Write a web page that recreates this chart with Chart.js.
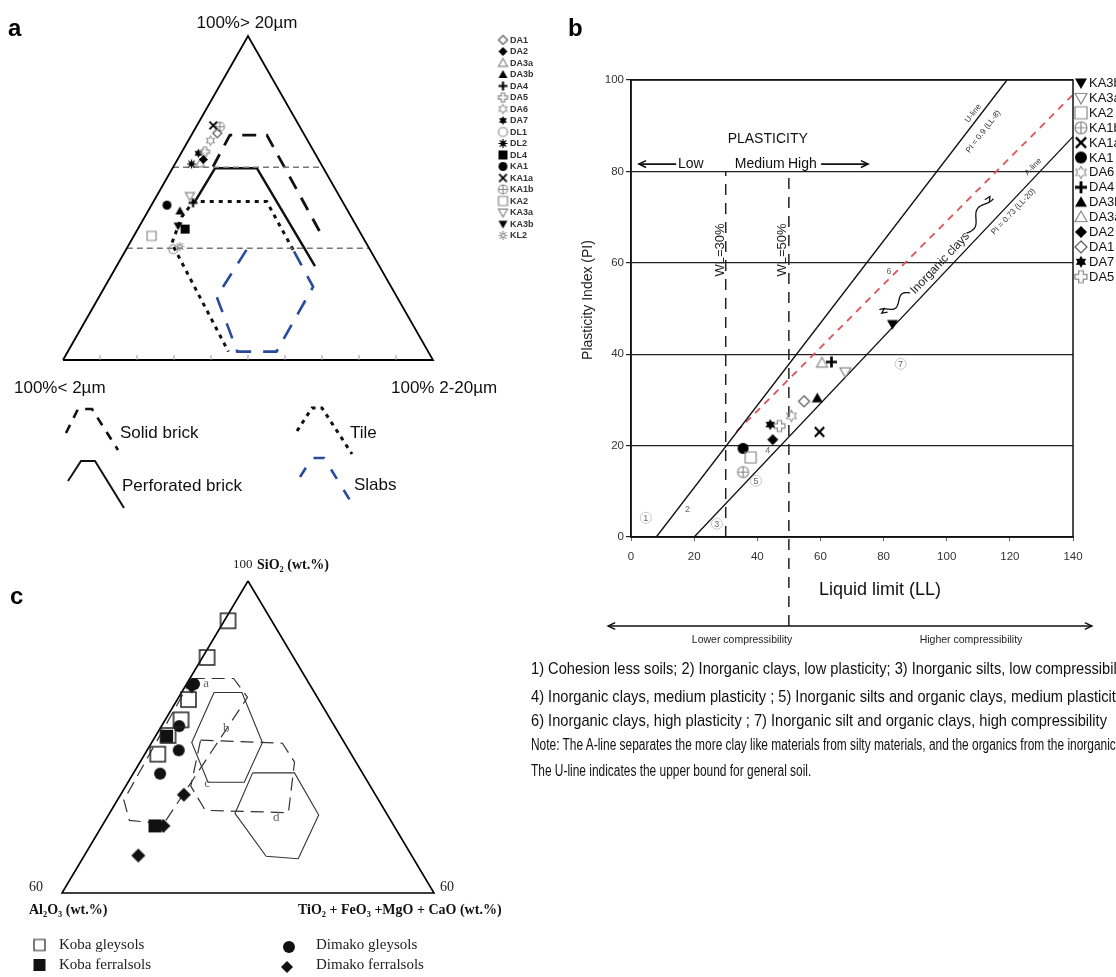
<!DOCTYPE html>
<html lang="en">
<head>
<meta charset="UTF-8">
<title>Grain size, plasticity and chemistry of the clays</title>
<script src="https://cdn.jsdelivr.net/npm/chart.js"></script>
<style>
  body { margin: 0; background: #fff; }
  #page { position: relative; width: 1116px; height: 977px; overflow: hidden; font-family: "Liberation Sans", Arial, sans-serif; }
  #page canvas { position: absolute; }
  .tag { position: absolute; font: bold 24px "Liberation Sans", Arial, sans-serif; line-height: 24px; color: #000; }
  .narrow { position: absolute; left: 531px; white-space: nowrap; transform-origin: 0 50%; color: #111; line-height: 20px; }
</style>
</head>
<body>
<div id="page">
  <canvas id="chartA" width="560" height="540" style="left:0px;top:0px"></canvas>
  <canvas id="chartC" width="560" height="437" style="left:0px;top:540px"></canvas>
  <canvas id="chartB" width="556" height="640" style="left:560px;top:20px"></canvas>
  <div class="tag" style="left:8px;top:16px">a</div>
  <div class="tag" style="left:568px;top:16px">b</div>
  <div class="tag" style="left:10px;top:584px">c</div>
  <div class="narrow big" style="top:659px;font-size:17px">1) Cohesion less soils; 2) Inorganic clays, low plasticity; 3) Inorganic silts, low compressibility;</div>
  <div class="narrow big" style="top:687px;font-size:17px">4) Inorganic clays, medium plasticity ; 5) Inorganic silts and organic clays, medium plasticity;</div>
  <div class="narrow big" id="refBig" style="top:711px;font-size:17px">6) Inorganic clays, high plasticity ; 7) Inorganic silt and organic clays, high compressibility</div>
  <div class="narrow small" style="top:735px;font-size:16px">Note: The A-line separates the more clay like materials from silty materials, and the organics from the inorganics.</div>
  <div class="narrow small" id="refSmall" style="top:761px;font-size:16px">The U-line indicates the upper bound for general soil.</div>
</div>
<script>
// ---------- panel a : grain size fractions (%) ----------
const samplesA = ['DA1', 'DA2', 'DA3a', 'DA3b', 'DA4', 'DA5', 'DA6', 'DA7', 'DL1', 'DL2', 'DL4', 'KA1', 'KA1a', 'KA1b', 'KA2', 'KA3a', 'KA3b', 'KL2'];
const clayA = [23.3, 31.1, 32.6, 45.4, 40.6, 29.5, 26.3, 31.5, 53.1, 35.0, 46.8, 48.0, 23.2, 21.6, 56.9, 40.4, 48.2, 50.9];  // < 2 µm
const siltA = [6.7, 7.0, 6.7, 8.6, 10.9, 6.2, 6.0, 4.7, 12.7, 4.5, 12.8, 4.2, 4.4, 6.4, 4.8, 9.0, 10.4, 14.1];          // 2-20 µm
const sandA = [70.0, 61.9, 60.7, 46.0, 48.5, 64.3, 67.7, 63.8, 34.2, 60.5, 40.4, 47.8, 72.4, 72.0, 38.3, 50.6, 41.4, 35.0]; // > 20 µm

// fields, vertices as [clay, silt, sand]
const solidBrick = [[29.6, 10.7, 59.7], [20.2, 10.4, 69.4], [10.2, 20.4, 69.4], [10.8, 49.6, 39.6]];
const perforatedBrick = [[39.9, 11.2, 48.9], [29.3, 11.5, 59.2], [18.0, 22.8, 59.2], [17.4, 53.6, 29.0]];
const tile = [[20.8, 45.2, 34.0], [20.5, 30.6, 48.9], [40.3, 10.8, 48.9], [45.8, 10.0, 44.2], [52.6, 11.4, 36.0], [54.0, 43.4, 2.6]];
const slabs = [[33.4, 32.6, 34.0], [48.7, 31.8, 19.5], [51.6, 45.8, 2.6], [41.0, 56.4, 2.6], [21.1, 56.3, 22.6], [20.8, 45.2, 34.0]];
const guideSand = [59.5, 34.5];
const baseTicksA = [10, 20, 30, 40, 50, 60, 70, 80, 90];

// ---------- panel b : Casagrande plasticity chart ----------
const samplesB = ['KA3b', 'KA3a', 'KA2', 'KA1b', 'KA1a', 'KA1', 'DA6', 'DA4', 'DA3b', 'DA3a', 'DA2', 'DA1', 'DA7', 'DA5'];
const liquidLimit = [82.8, 67.9, 37.9, 35.5, 59.7, 35.5, 50.8, 63.5, 59.0, 60.5, 44.9, 54.8, 44.1, 47.0];
const plasticityIndex = [46.6, 36.1, 17.4, 14.2, 23.0, 19.4, 26.5, 38.3, 30.4, 38.1, 21.3, 29.7, 24.6, 24.3];
const uLineLL = [8, 119.1], uLinePI = [0, 100];
const aLineLL = [20, 140], aLinePI = [0, 87.6];
const redLineLL = [33.5, 140], redLinePI = [23.1, 96.8];
const wlLL = [30, 50], wlTopPI = [80, 80], wlBottomPI = [0, -19.5];
const zoneText = ['1', '2', '3', '4', '5', '6', '7'];
const zoneLL = [4.7, 17.9, 27.2, 43.3, 39.6, 81.7, 85.4];
const zonePI = [4.2, 6.2, 2.9, 19.0, 12.3, 58.3, 37.9];
const xTicksB = [0, 140, 20], yTicksB = [0, 100, 20]; // min, max, step

// ---------- panel c : SiO2 - Al2O3 - (TiO2+FeO3+MgO+CaO), wt.% ----------
const groupsC = ['Koba gleysols', 'Koba ferralsols', 'Dimako gleysols', 'Dimako ferralsols'];
const sio2C = [[94.9, 90.2, 84.8, 82.2, 80.2, 77.8], [80.1, 68.6], [86.8, 81.4, 78.3, 75.3], [86.5, 72.6, 68.6, 64.8]];
const al2o3C = [[4.7, 9.3, 14.0, 16.1, 18.5, 20.8], [18.7, 25.7], [12.4, 16.7, 18.3, 21.8], [12.8, 20.6, 24.8, 29.4]];
const othersC = [[0.4, 0.5, 1.2, 1.7, 1.3, 1.4], [1.2, 5.7], [0.8, 1.9, 3.4, 2.9], [0.7, 6.8, 6.6, 5.8]];
// fields, vertices as [SiO2, Al2O3, others]
const fieldA = [[87.5, 12.3, 0.2], [87.5, 7.8, 4.7], [85.1, 7.5, 7.4], [68.9, 24.6, 6.5], [69.3, 28.1, 2.6], [71.9, 27.4, 0.7]];
const fieldB = [[85.7, 10.8, 3.5], [85.7, 7.8, 6.5], [79.3, 8.8, 11.9], [74.2, 13.3, 12.5], [74.2, 17.2, 8.6], [79.3, 16.4, 4.3]];
const fieldC = [[79.6, 15.3, 5.1], [79.2, 6.7, 14.1], [76.8, 6.6, 16.6], [70.3, 10.5, 19.2], [70.6, 19.3, 10.1], [73.7, 19.3, 7.0]];
const fieldD = [[75.4, 11.8, 12.8], [75.4, 7.3, 17.3], [70.0, 7.4, 22.6], [64.4, 12.4, 23.2], [64.7, 15.7, 19.6], [70.2, 16.3, 13.5]];
const fieldNames = ['a', 'b', 'c', 'd'];
const fieldLabelPos = [[86.8, 11.1, 2.1], [81.1, 11.8, 7.1], [74.0, 17.4, 8.6], [69.7, 12.1, 18.2]];

// ---------- helpers ----------
const terA = ([c, s, t]) => ({ x: s + t / 2, y: t });            // sand at apex, silt to the right
const terC = ([si, al, ot]) => {                                   // SiO2 60..100 at apex
  const h = (si - 60) / 40 * 100, r = ot / 40 * 100;
  return { x: r + h / 2, y: h };
};
const closed = arr => arr.concat([arr[0]]);

function marker(shape, size, filled, color, lw) {
  const d = Math.ceil(size) + 4;
  const cv = document.createElement('canvas');
  cv.width = d; cv.height = d;
  const g = cv.getContext('2d');
  const c = d / 2, r = size / 2;
  g.strokeStyle = color; g.fillStyle = color; g.lineWidth = lw || 1.2;
  const poly = pts => { g.beginPath(); pts.forEach(([x, y], i) => i ? g.lineTo(c + x, c + y) : g.moveTo(c + x, c + y)); g.closePath(); };
  const paint = () => filled ? g.fill() : g.stroke();
  if (shape === 'circle') { g.beginPath(); g.arc(c, c, r, 0, Math.PI * 2); paint(); }
  else if (shape === 'square') { poly([[-r, -r], [r, -r], [r, r], [-r, r]]); paint(); }
  else if (shape === 'diamond') { poly([[0, -r], [r, 0], [0, r], [-r, 0]]); paint(); }
  else if (shape === 'tri') { poly([[0, -r], [r, r * 0.75], [-r, r * 0.75]]); paint(); }
  else if (shape === 'triDown') { poly([[0, r], [r, -r * 0.75], [-r, -r * 0.75]]); paint(); }
  else if (shape === 'plus') {
    g.lineWidth = size * 0.24; g.beginPath();
    g.moveTo(c - r, c); g.lineTo(c + r, c); g.moveTo(c, c - r); g.lineTo(c, c + r); g.stroke();
  } else if (shape === 'plusOpen') {
    const w = r * 0.38;
    poly([[-w, -r], [w, -r], [w, -w], [r, -w], [r, w], [w, w], [w, r], [-w, r], [-w, w], [-r, w], [-r, -w], [-w, -w]]); g.stroke();
  } else if (shape === 'star6') {
    const pts = [];
    for (let k = 0; k < 12; k++) { const a = -Math.PI / 2 + k * Math.PI / 6, rr = k % 2 ? r * 0.58 : r; pts.push([rr * Math.cos(a), rr * Math.sin(a)]); }
    poly(pts); paint();
  } else if (shape === 'x') {
    const q = r * 0.85; g.lineWidth = size * 0.2; g.beginPath();
    g.moveTo(c - q, c - q); g.lineTo(c + q, c + q); g.moveTo(c + q, c - q); g.lineTo(c - q, c + q); g.stroke();
  } else if (shape === 'circlePlus') {
    g.beginPath(); g.arc(c, c, r, 0, Math.PI * 2);
    g.moveTo(c - r, c); g.lineTo(c + r, c); g.moveTo(c, c - r); g.lineTo(c, c + r); g.stroke();
  } else if (shape === 'burst') {
    g.beginPath(); g.arc(c, c, r * 0.55, 0, Math.PI * 2); g.fill(); g.beginPath();
    for (let k = 0; k < 8; k++) { const a = k * Math.PI / 4; g.moveTo(c, c); g.lineTo(c + r * Math.cos(a), c + r * Math.sin(a)); }
    g.stroke();
  } else if (shape === 'sun') {
    g.beginPath(); g.arc(c, c, r * 0.42, 0, Math.PI * 2); g.stroke(); g.beginPath();
    for (let k = 0; k < 8; k++) { const a = k * Math.PI / 4; g.moveTo(c + r * 0.62 * Math.cos(a), c + r * 0.62 * Math.sin(a)); g.lineTo(c + r * Math.cos(a), c + r * Math.sin(a)); }
    g.stroke();
  }
  return cv;
}

const symbolOf = {
  DA1: ['diamond', false, '#555'], DA2: ['diamond', true, '#000'], DA3a: ['tri', false, '#888'], DA3b: ['tri', true, '#000'],
  DA4: ['plus', true, '#000'], DA5: ['plusOpen', false, '#888'], DA6: ['star6', false, '#999'], DA7: ['star6', true, '#000'],
  DL1: ['circle', false, '#888'], DL2: ['burst', true, '#000'], DL4: ['square', true, '#000'], KA1: ['circle', true, '#000'],
  KA1a: ['x', true, '#000'], KA1b: ['circlePlus', false, '#888'], KA2: ['square', false, '#888'], KA3a: ['triDown', false, '#888'],
  KA3b: ['triDown', true, '#000'], KL2: ['sun', false, '#888']
};
const symbolImg = (name, size) => { const s = symbolOf[name]; return marker(s[0], size, s[1], s[2]); };

function text(ctx, s, x, y, font, color, align, rot) {
  ctx.save();
  ctx.translate(x, y);
  if (rot) ctx.rotate(rot * Math.PI / 180);
  ctx.font = font; ctx.fillStyle = color || '#111';
  ctx.textAlign = align || 'left'; ctx.textBaseline = 'middle';
  ctx.fillText(s, 0, 0);
  ctx.restore();
}
function polyline(ctx, pts, color, width, dash) {
  ctx.save();
  ctx.strokeStyle = color; ctx.lineWidth = width; ctx.setLineDash(dash || []);
  ctx.beginPath();
  pts.forEach(([x, y], i) => i ? ctx.lineTo(x, y) : ctx.moveTo(x, y));
  ctx.stroke();
  ctx.restore();
}
function arrowHead(ctx, x, y, ang, len) {
  ctx.beginPath();
  ctx.moveTo(x - len * Math.cos(ang - 0.45), y - len * Math.sin(ang - 0.45));
  ctx.lineTo(x, y);
  ctx.lineTo(x - len * Math.cos(ang + 0.45), y - len * Math.sin(ang + 0.45));
  ctx.stroke();
}
function arrow(ctx, x1, y1, x2, y2, both) {
  ctx.beginPath(); ctx.moveTo(x1, y1); ctx.lineTo(x2, y2); ctx.stroke();
  const ang = Math.atan2(y2 - y1, x2 - x1);
  arrowHead(ctx, x2, y2, ang, 8);
  if (both) arrowHead(ctx, x1, y1, ang + Math.PI, 8);
}
function squiggle(ctx, x1, y1, x2, y2) {
  const dx = x2 - x1, dy = y2 - y1, len = Math.hypot(dx, dy), nx = -dy / len, ny = dx / len;
  ctx.beginPath();
  for (let i = 0; i <= 40; i++) {
    const t = i / 40, off = Math.sin(t * Math.PI * 2.5) * 4;
    const px = x1 + dx * t + nx * off, py = y1 + dy * t + ny * off;
    i ? ctx.lineTo(px, py) : ctx.moveTo(px, py);
  }
  ctx.stroke();
  arrowHead(ctx, x2, y2, Math.atan2(dy, dx), 6);
}

const lineSet = (pts, color, width, dash) => ({
  data: pts, showLine: true, pointRadius: 0, borderColor: color, borderWidth: width,
  borderDash: dash || [], fill: false, clip: false, order: 2
});
const pointSet = (pts, img) => ({ data: pts, pointStyle: img, pointRadius: 4, clip: false, order: 1 });
const baseOptions = padding => ({
  responsive: false, animation: false, events: [],
  layout: { padding },
  scales: { x: { display: false, min: 0, max: 100 }, y: { display: false, min: 0, max: 100 } },
  plugins: { legend: { display: false }, tooltip: { enabled: false } }
});

// ---------- chart a ----------
const triangleA = closed([[100, 0, 0], [0, 100, 0], [0, 0, 100]]);
const dsA = [
  lineSet(triangleA.map(terA), '#000', 1.8),
  ...guideSand.map(t => lineSet([terA([100 - t, 0, t]), terA([0, 100 - t, t])], '#777', 1.4, [6, 4])),
  lineSet(solidBrick.map(terA), '#111', 2.8, [14, 10]),
  lineSet(perforatedBrick.map(terA), '#111', 2.5),
  lineSet(tile.map(terA), '#111', 3, [4, 5]),
  lineSet(slabs.map(terA), '#2a4a9e', 2.6, [16, 12]),
  ...samplesA.map((n, i) => pointSet([terA([clayA[i], siltA[i], sandA[i]])], symbolImg(n, 9)))
];
const decorA = {
  id: 'decorA',
  afterDraw(chart) {
    const { ctx, scales: { x, y } } = chart;
    ctx.save();
    ctx.strokeStyle = '#999'; ctx.lineWidth = 1;
    baseTicksA.forEach(v => {
      const p = x.getPixelForValue(v), q = y.getPixelForValue(0);
      ctx.beginPath(); ctx.moveTo(p, q); ctx.lineTo(p, q - 5); ctx.stroke();
    });
    const f17 = '17px "Liberation Sans", Arial, sans-serif';
    text(ctx, '100%> 20\u00b5m', 247, 23, f17, '#111', 'center');
    text(ctx, '100%< 2\u00b5m', 14, 388, f17, '#111');
    text(ctx, '100% 2-20\u00b5m', 391, 388, f17, '#111');
    // sample legend
    samplesA.forEach((n, i) => {
      const img = symbolImg(n, 9), yy = 40 + i * 11.5;
      ctx.drawImage(img, 503 - img.width / 2, yy - img.height / 2);
      text(ctx, n, 510, yy + 0.5, 'bold 9px "Liberation Sans", Arial, sans-serif', '#333');
    });
    // field legend
    polyline(ctx, [[66, 433], [78, 409], [92, 409], [118, 450]], '#111', 2.6, [9, 8]);
    polyline(ctx, [[68, 481], [81, 461], [95, 461], [124, 508]], '#111', 2);
    polyline(ctx, [[297, 431], [312, 408], [322, 408], [352, 454]], '#111', 3, [4, 5]);
    polyline(ctx, [[300, 477], [312, 458], [324, 458], [356, 510]], '#2a4a9e', 2.6, [11, 13]);
    text(ctx, 'Solid brick', 120, 433, f17, '#111');
    text(ctx, 'Perforated brick', 122, 486, f17, '#111');
    text(ctx, 'Tile', 350, 433, f17, '#111');
    text(ctx, 'Slabs', 354, 485, f17, '#111');
    ctx.restore();
  }
};
new Chart(document.getElementById('chartA'), {
  type: 'scatter',
  data: { datasets: dsA },
  options: baseOptions({ left: 63, right: 127, top: 36, bottom: 180 }),
  plugins: [decorA]
});

// ---------- chart b ----------
const pairs = (xs, ys) => xs.map((v, i) => ({ x: v, y: ys[i] }));
const dsB = [
  lineSet(pairs(uLineLL, uLinePI), '#111', 1.3),
  lineSet(pairs(aLineLL, aLinePI), '#111', 1.3),
  lineSet(pairs(redLineLL, redLinePI), '#e0505a', 1.8, [7, 6]),
  ...wlLL.map((v, i) => lineSet([{ x: v, y: wlBottomPI[i] }, { x: v, y: wlTopPI[i] }], '#222', 1.5, [11, 8])),
  ...samplesB.map((n, i) => pointSet([{ x: liquidLimit[i], y: plasticityIndex[i] }], symbolImg(n, 11)))
];
const decorB = {
  id: 'decorB',
  afterDraw(chart) {
    const { ctx, chartArea: a, scales: { x, y } } = chart;
    const X = v => x.getPixelForValue(v), Y = v => y.getPixelForValue(v);
    const sans = s => s + 'px "Liberation Sans", Arial, sans-serif';
    ctx.save();
    ctx.strokeStyle = '#111'; ctx.lineWidth = 1.5;
    ctx.strokeRect(a.left, a.top, a.right - a.left, a.bottom - a.top);
    // axis titles
    text(ctx, 'Plasticity Index (PI)', 28, 280, sans(14), '#222', 'center', -90);
    text(ctx, 'Liquid limit (LL)', 320, 570, sans(18), '#111', 'center');
    // plasticity header
    text(ctx, 'PLASTICITY', X(43.3), Y(87.1), sans(14), '#111', 'center');
    ctx.lineWidth = 1.6; ctx.strokeStyle = '#111';
    arrow(ctx, X(14.3), Y(81.6), X(2.5), Y(81.6));
    text(ctx, 'Low', X(14.9), Y(81.6), sans(14), '#111');
    text(ctx, 'Medium', X(32.9), Y(81.6), sans(14), '#111');
    text(ctx, 'High', X(49.7), Y(81.6), sans(14), '#111');
    arrow(ctx, X(60.2), Y(81.6), X(75.1), Y(81.6));
    text(ctx, 'WL=30%', X(28.2), Y(62.8), sans(13), '#222', 'center', -90);
    text(ctx, 'WL=50%', X(48.1), Y(62.8), sans(13), '#222', 'center', -90);
    // line labels
    text(ctx, 'U-line', X(108.4), Y(92.7), sans(8), '#333', 'center', -52.5);
    text(ctx, 'PI = 0.9 (LL-8)', X(111.6), Y(88.7), sans(8), '#333', 'center', -52.5);
    text(ctx, 'A-line', X(127.4), Y(81.0), sans(8), '#333', 'center', -46.6);
    text(ctx, 'PI = 0.73 (LL-20)', X(121.1), Y(71.2), sans(8), '#333', 'center', -46.6);
    text(ctx, 'Inorganic clays', X(97.9), Y(59.9), sans(12), '#222', 'center', -46.6);
    ctx.lineWidth = 1.3;
    squiggle(ctx, X(106.3), Y(66.5), X(113.7), Y(74.5));
    squiggle(ctx, X(88.4), Y(53.4), X(79.4), Y(49.0));
    // zone numbers
    zoneText.forEach((t, i) => {
      const px = X(zoneLL[i]), py = Y(zonePI[i]);
      if (i % 2 === 0) { ctx.strokeStyle = '#bbb'; ctx.lineWidth = 0.8; ctx.beginPath(); ctx.arc(px, py, 5.5, 0, Math.PI * 2); ctx.stroke(); }
      text(ctx, t, px, py + 0.5, sans(9), '#666', 'center');
    });
    // compressibility
    ctx.strokeStyle = '#111'; ctx.lineWidth = 1.4;
    arrow(ctx, 48, 606, 532, 606, true);
    text(ctx, 'Lower compressibility', 182, 620, sans(10.5), '#222', 'center');
    text(ctx, 'Higher compressibility', 411, 620, sans(10.5), '#222', 'center');
    // sample legend
    samplesB.forEach((n, i) => {
      const img = symbolImg(n, 12), yy = 63 + i * 14.9;
      ctx.drawImage(img, 521 - img.width / 2, yy - img.height / 2);
      text(ctx, n, 529, yy + 0.5, sans(13), '#111');
    });
    ctx.restore();
  }
};
new Chart(document.getElementById('chartB'), {
  type: 'scatter',
  data: { datasets: dsB },
  options: {
    responsive: false, animation: false, events: [],
    layout: { padding: { left: 0, right: 43, top: 60, bottom: 0 } },
    scales: {
      x: {
        min: xTicksB[0], max: xTicksB[1],
        afterFit: s => { s.height = 123; },
        border: { color: '#111', width: 1.5 },
        grid: { drawOnChartArea: false, tickLength: 4, color: '#666' },
        ticks: { stepSize: xTicksB[2], padding: 9, maxRotation: 0, autoSkip: false, color: '#333', font: { family: '"Liberation Sans", Arial, sans-serif', size: 11.5 } }
      },
      y: {
        min: yTicksB[0], max: yTicksB[1],
        afterFit: s => { s.width = 71; },
        border: { color: '#111', width: 1.5 },
        grid: { color: '#222', lineWidth: 1.2, tickLength: 5 },
        ticks: { stepSize: yTicksB[2], padding: 2, color: '#333', font: { family: '"Liberation Sans", Arial, sans-serif', size: 11.5 } }
      }
    },
    plugins: { legend: { display: false }, tooltip: { enabled: false } }
  },
  plugins: [decorB]
});

// ---------- chart c ----------
const triangleC = closed([[100, 0, 0], [60, 40, 0], [60, 0, 40]]);
const styleC = [['square', false, '#222', 15, 1.5], ['square', true, '#111', 13], ['circle', true, '#111', 12], ['diamond', true, '#111', 14]];
const imgC = i => marker(styleC[i][0], styleC[i][3], styleC[i][1], styleC[i][2], styleC[i][4]);
const dsC = [
  lineSet(triangleC.map(terC), '#000', 1.6),
  lineSet(closed(fieldA).map(terC), '#333', 1.2, [13, 7]),
  lineSet(closed(fieldB).map(terC), '#333', 1.1),
  lineSet(closed(fieldC).map(terC), '#333', 1.2, [13, 7]),
  lineSet(closed(fieldD).map(terC), '#333', 1.1),
  ...groupsC.map((g, i) => pointSet(sio2C[i].map((s, k) => terC([s, al2o3C[i][k], othersC[i][k]])), imgC(i)))
];
const decorC = {
  id: 'decorC',
  afterDraw(chart) {
    const { ctx, scales: { x, y } } = chart;
    const serif = (s, b) => (b ? 'bold ' : '') + s + 'px "Liberation Serif", "Times New Roman", serif';
    ctx.save();
    fieldNames.forEach((n, i) => {
      const p = terC(fieldLabelPos[i]);
      text(ctx, n, x.getPixelForValue(p.x), y.getPixelForValue(p.y), serif(13), '#666', 'center');
    });
    text(ctx, '100', 233, 25, serif(13), '#222');
    text(ctx, 'SiO\u2082 (wt.%)', 257, 25, serif(14, true), '#111');
    text(ctx, '60', 29, 347, serif(14), '#222');
    text(ctx, '60', 440, 347, serif(14), '#222');
    text(ctx, 'Al\u2082O\u2083 (wt.%)', 29, 370, serif(14, true), '#111');
    text(ctx, 'TiO\u2082 + FeO\u2083 +MgO + CaO (wt.%)', 298, 370, serif(14, true), '#111');
    const legendPos = [[39.5, 405, 59], [39.5, 425, 59], [289, 407, 316], [287, 427, 316]];
    groupsC.forEach((g, i) => {
      const img = i === 0 ? marker('square', 11, false, '#222', 1.2) : marker(styleC[i][0], 12, true, '#111');
      const [mx, my, tx] = legendPos[i];
      ctx.drawImage(img, mx - img.width / 2, my - img.height / 2);
      text(ctx, g, tx, i % 2 ? 425 : 405, serif(15), '#222');
    });
    ctx.restore();
  }
};
new Chart(document.getElementById('chartC'), {
  type: 'scatter',
  data: { datasets: dsC },
  options: baseOptions({ left: 62, right: 126, top: 41, bottom: 84 }),
  plugins: [decorC]
});

// condensed caption lines (the source uses a narrow face)
const fit = (cls, refId, target) => {
  const k = target / document.getElementById(refId).scrollWidth;
  document.querySelectorAll('.narrow.' + cls).forEach(el => { el.style.transform = 'scaleX(' + k.toFixed(3) + ')'; });
};
fit('big', 'refBig', 576);
fit('small', 'refSmall', 280);
</script>
</body>
</html>
